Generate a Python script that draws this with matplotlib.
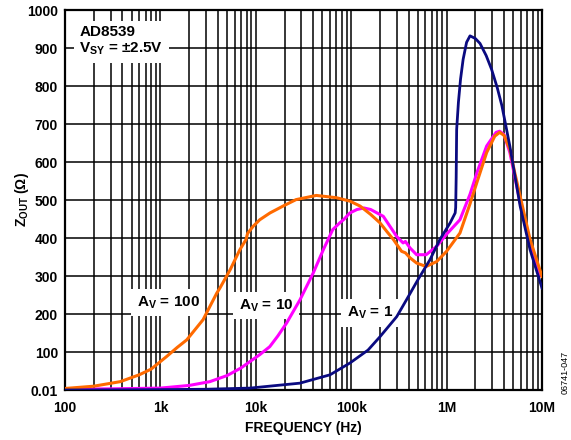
import matplotlib
matplotlib.use('Agg')
import matplotlib.pyplot as plt
from matplotlib.ticker import LogLocator, FixedLocator

plt.rcParams['font.family'] = ['Liberation Sans', 'DejaVu Sans']
plt.rcParams['font.weight'] = 'bold'
plt.rcParams['mathtext.fontset'] = 'custom'
plt.rcParams['mathtext.default'] = 'bf'
plt.rcParams['mathtext.bf'] = 'Liberation Sans:bold'
plt.rcParams['mathtext.rm'] = 'Liberation Sans:bold'

# 数据
f_av100 = [100, 200, 380, 600, 800, 1.16e3, 1.5e3, 1.89e3, 2.8e3, 3.9e3, 4.2e3, 5.4e3, 6.8e3,
           7.9e3, 8.2e3, 9.4e3, 11e3, 14.1e3, 19.3e3, 26.4e3, 43e3, 70e3, 97e3, 124e3, 160e3,
           200e3, 240e3, 277e3, 337e3, 370e3, 413e3, 485e3, 610e3, 787e3, 1e6, 1.38e6,
           1.76e6, 2.07e6, 2.63e6, 3.2e6, 3.6e6, 4e6, 4.6e6, 5.2e6, 5.9e6, 7.5e6, 10e6]
z_av100 = [4, 10, 22, 40, 55, 88, 112, 132, 185, 255, 268, 317, 369,
           396, 412, 431, 448, 466, 484, 501, 512, 506, 497, 484, 462,
           440, 415, 396, 365, 361, 348, 334, 325, 338, 365, 413,
           490, 545, 625, 668, 678, 670, 633, 570, 510, 396, 299]

f_av10 = [100, 300, 1e3, 2e3, 3.3e3, 5e3, 7e3, 8.7e3, 11e3, 14e3, 17e3, 21e3, 29e3, 40e3,
          51e3, 64e3, 76e3, 83e3, 97e3, 115e3, 136e3, 160e3, 217e3, 300e3, 350e3, 370e3,
          413e3, 485e3, 610e3, 787e3, 1e6, 1.38e6, 1.76e6, 2.1e6, 2.63e6, 3.3e6, 3.6e6,
          4e6, 4.6e6, 5.9e6, 7.5e6, 9.2e6, 10e6]
z_av10 = [2, 3, 5, 12, 22, 38, 58, 75, 93, 114, 142, 176, 237, 308,
          369, 422, 440, 448, 466, 475, 479, 475, 457, 404, 387, 391,
          374, 356, 356, 378, 410, 448, 515, 575, 642, 678, 681,
          672, 625, 493, 378, 308, 300]

f_av1 = [100, 1e3, 3e3, 8.7e3, 29e3, 60e3, 97e3, 150e3, 200e3, 300e3, 385e3, 500e3, 670e3,
         850e3, 1.09e6, 1.23e6, 1.245e6, 1.26e6, 1.275e6, 1.33e6, 1.4e6, 1.49e6, 1.62e6,
         1.76e6, 2.0e6, 2.24e6, 2.6e6, 2.96e6, 3.4e6, 3.8e6, 4.6e6, 5.9e6, 7.5e6, 10e6]
z_av1 = [0, 1, 2, 5, 18, 40, 71, 105, 140, 193, 240, 290, 343,
         396, 440, 466, 480, 560, 686, 757, 818, 870, 915,
         932, 925, 912, 880, 844, 795, 748, 642, 484, 369, 268]

y_ticks = [0, 100, 200, 300, 400, 500, 600, 700, 800, 900, 1000]
y_labels = ['0.01', '100', '200', '300', '400', '500', '600', '700', '800', '900', '1000']
x_ticks = [1e2, 1e3, 1e4, 1e5, 1e6, 1e7]
x_labels = ['100', '1k', '10k', '100k', '1M', '10M']

fig = plt.figure(figsize=(5.71, 4.40), dpi=100)
ax = fig.add_axes([65 / 571, 1 - 390 / 440, 477 / 571, 380 / 440])

ax.plot(f_av10, z_av10, color='#FF00FF', lw=2.2, zorder=3)
ax.plot(f_av100, z_av100, color='#FF6A00', lw=2.2, zorder=4)
ax.plot(f_av1, z_av1, color='#0A0A80', lw=2.0, zorder=5)

ax.set_xscale('log')
ax.set_xlim(100, 1e7)
ax.set_ylim(0, 1000)
ax.xaxis.set_major_locator(FixedLocator(x_ticks))
ax.xaxis.set_minor_locator(LogLocator(base=10, subs=range(2, 10)))
ax.set_xticks(x_ticks, x_labels)
ax.set_yticks(y_ticks, y_labels)
ax.tick_params(which='both', length=0, labelsize=10)
ax.tick_params(axis='x', pad=8)
ax.tick_params(axis='y', pad=5)
ax.grid(which='both', color='black', lw=1.1)
for s in ax.spines.values():
    s.set_linewidth(1.6)

ax.set_xlabel('FREQUENCY (Hz)', fontsize=10, fontweight='bold', labelpad=4)
ax.set_ylabel(r'Z$_{OUT}$ ($\Omega$)', fontsize=10, fontweight='bold', labelpad=-3)

box = dict(facecolor='white', edgecolor='none', pad=4)
ax.text(0.03, 0.96, 'AD8539\nV$_{SY}$ = ±2.5V', transform=ax.transAxes, ha='left', va='top',
        fontsize=11, fontweight='bold', linespacing=1.15, bbox=box, zorder=6)
ax.text(1.2e3, 230, 'A$_V$ = 100', ha='center', va='center', fontsize=11,
        fontweight='bold', bbox=box, zorder=2)
ax.text(12.8e3, 222, 'A$_V$ = 10', ha='center', va='center', fontsize=11,
        fontweight='bold', bbox=box, zorder=2)
ax.text(157e3, 203, 'A$_V$ = 1', ha='center', va='center', fontsize=11,
        fontweight='bold', bbox=box, zorder=2)

fig.text(565 / 571, 1 - 372 / 440, '06741-047', rotation=90, ha='center', va='center',
         fontsize=6.5, fontweight='normal')

fig.savefig('out.png', dpi=100)
